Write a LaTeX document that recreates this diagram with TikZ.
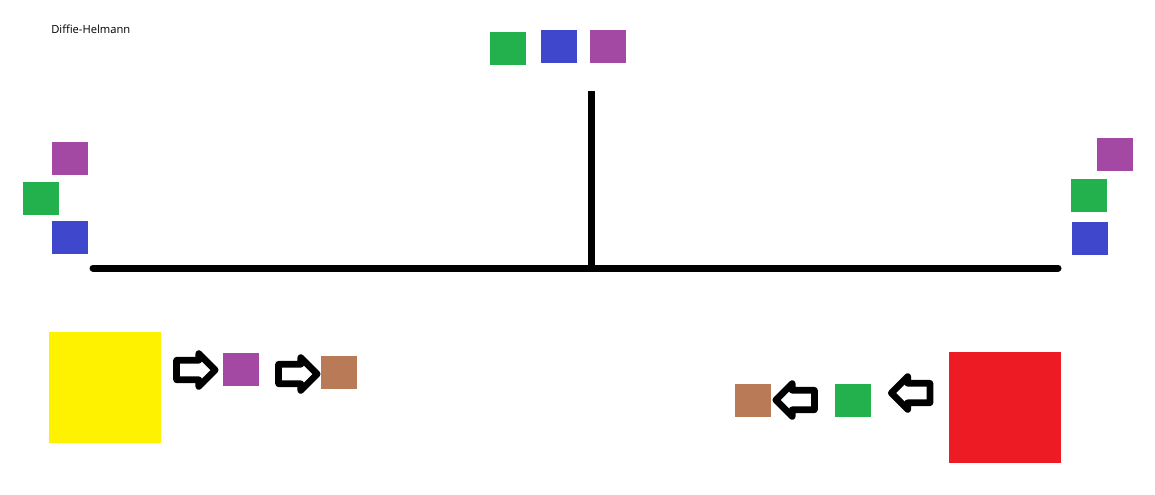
\documentclass[tikz,border=0pt]{standalone}
\usepackage{fontspec}
\setmainfont{Open Sans}
\usetikzlibrary{positioning,shapes.arrows}
\definecolor{pgreen}{HTML}{22B14C}
\definecolor{pblue}{HTML}{3F48CC}
\definecolor{ppurple}{HTML}{A349A4}
\definecolor{pbrown}{HTML}{B97A57}
\definecolor{pyellow}{HTML}{FFF200}
\definecolor{pred}{HTML}{ED1C24}
\tikzset{
  sq/.style      = {draw=none, inner sep=0pt, minimum width=27pt, minimum height=24.75pt},
  bigsq/.style   = {draw=none, inner sep=0pt, minimum width=84pt, minimum height=83.25pt},
  wire/.style    = {draw=black, line width=5.25pt},
  blockarr/.style = {single arrow, draw=black, fill=white, line width=5pt, line join=round,
                     inner xsep=0pt, inner ysep=4.8pt, minimum height=29pt,
                     single arrow head extend=5pt},
  title/.style   = {font=\fontsize{8.4}{9}\selectfont, anchor=west, inner sep=0pt},
}
\begin{document}
\begin{tikzpicture}[x=0.75pt,y=-0.75pt]
  \useasboundingbox (0,0) rectangle (1155,494);

  \node[title] (ttl) at (51,29) {Diffie-Helmann};

  % ---------- shared colours on top ----------
  \node[sq, fill=pgreen]  (topg) at (508,48.5) {};
  \node[sq, fill=pblue]   (topb) at (559,46.5) {};
  \node[sq, fill=ppurple] (topp) at (608,46.5) {};

  % ---------- the wire ----------
  \coordinate (wl) at (93,268);
  \coordinate (wr) at (1058,268);
  \coordinate (wt) at (591,91);
  \coordinate (wm) at (591,268);
  \draw[wire] (wt) -- (wm);
  \draw[wire, line cap=round] (wl) -- (wr);

  % ---------- left party ----------
  \node[sq, fill=ppurple] (lp) at (70,158.5) {};
  \node[sq, fill=pgreen]  (lg) at (41,198.5) {};
  \node[sq, fill=pblue]   (lb) at (70,237.5) {};

  % ---------- right party ----------
  \node[sq, fill=ppurple] (rp) at (1115,154.5) {};
  \node[sq, fill=pgreen]  (rg) at (1089,195.5) {};
  \node[sq, fill=pblue]   (rb) at (1090,238.5) {};

  % ---------- left secret ----------
  \node[bigsq, fill=pyellow] (yel) at (105,387.5) {};
  \node[blockarr] (la1) at (191,370) {};
  \node[sq, fill=ppurple] (lmix) at (241,369.5) {};
  \node[blockarr] (la2) at (293,374) {};
  \node[sq, fill=pbrown] (lkey) at (339,372.5) {};

  % ---------- right secret ----------
  \node[bigsq, fill=pred] (red) at (1004.5,407.5) {};
  \node[blockarr, shape border rotate=180] (ra2) at (915.5,393) {};
  \node[sq, fill=pgreen] (rmix) at (853,400.5) {};
  \node[blockarr, shape border rotate=180] (ra1) at (800,400) {};
  \node[sq, fill=pbrown] (rkey) at (753,400.5) {};
\end{tikzpicture}
\end{document}
